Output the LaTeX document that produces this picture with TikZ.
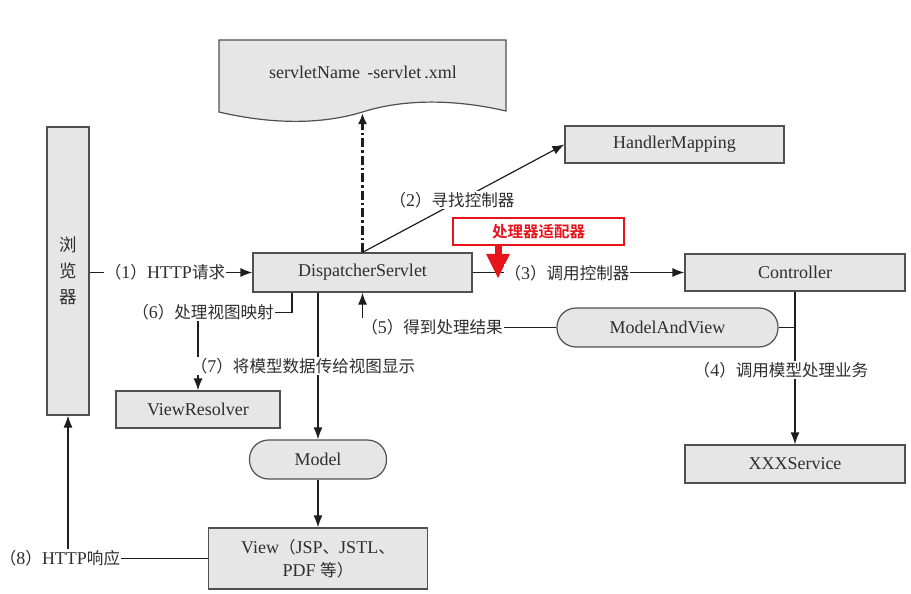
\documentclass[tikz,border=0pt]{standalone}
\usepackage{fontspec}
\setmainfont{Liberation Serif}
\newfontfamily\cjk[Scale=0.92]{Noto Sans CJK SC}
\newfontfamily\cjkbold{Noto Sans CJK SC Bold}
\usetikzlibrary{arrows.meta}
\newcommand{\zh}[1]{{\cjk #1}}
\definecolor{boxgray}{HTML}{E6E6E6}
\definecolor{boxline}{HTML}{505050}
\definecolor{textgray}{HTML}{2E2E2E}
\definecolor{linegray}{HTML}{1E1E1E}
\definecolor{markred}{HTML}{E8141B}
\begin{document}
\begin{tikzpicture}[
        x=1pt, y=-1pt,
        every node/.style = {font=\fontsize{18}{21}\selectfont},
        box/.style = {rectangle, draw=boxline, fill=boxgray, line width=1.2pt, inner sep=0pt, text=textgray},
        pill/.style = {box, rounded corners=19pt},
        lbl/.style = {fill=white, inner sep=1pt, text=textgray},
        link/.style = {line width=1.2pt, draw=linegray},
        arrow/.style = {link, -{Latex[length=12pt,width=9pt]}},
        redarrow/.style = {draw=markred, line width=7pt, -{Triangle[length=25pt,width=22pt]}}
    ]
    \useasboundingbox (0,0) rectangle (911,594);

    % ================= ARCHIVO DE CONFIGURACION =================
    \draw[draw=boxline, fill=boxgray, line width=1.2pt]
        (219,40) -- (506,40) -- (506,111)
        .. controls (450,98) and (400,100) .. (362.5,112)
        .. controls (320,125) and (270,124) .. (219,112) -- cycle;
    \node[text=textgray] (xml) at (363,72) {servletName \,-servlet\,.xml};
    \coordinate (xmlb) at (362.5,113);

    % ================= CAJAS =================
    \node[box, minimum width=42, minimum height=288, align=center,
          font=\cjk\fontsize{19}{26}\selectfont] (browser) at (68,271) {浏\\览\\器};
    \node[box, minimum width=219, minimum height=39] (ds) at (362.5,272.5) {DispatcherServlet};
    \node[box, minimum width=219, minimum height=37] (hm) at (674.5,144.5) {HandlerMapping};
    \node[box, minimum width=220, minimum height=37] (ctrl) at (795,272.5) {Controller};
    \node[box, minimum width=220, minimum height=38] (svc) at (795,464) {XXXService};
    \node[pill, minimum width=221, minimum height=39] (mav) at (667.5,327.5) {ModelAndView};
    \node[box, minimum width=164, minimum height=37] (vr) at (198,409.5) {ViewResolver};
    \node[pill, minimum width=137, minimum height=39] (model) at (318,459.5) {Model};
    \node[box, minimum width=219, minimum height=61, align=center,
          font=\fontsize{18}{23}\selectfont] (view) at (318,558.5) {View\zh{（}JSP\zh{、}JSTL\zh{、}\\PDF \zh{等）}};

    % Adaptador (marca roja)
    \node[rectangle, draw=markred, line width=1.5pt, fill=white, minimum width=171, minimum height=27,
          text=markred, font=\cjkbold\fontsize{15.5}{18}\selectfont] (adapter) at (538.5,231.5) {处理器适配器};

    % ================= CONEXIONES =================
    \draw[link, line width=2.4pt, dash pattern=on 9pt off 3pt on 2.5pt off 3pt, -{Latex[length=11pt,width=9pt]}] (ds.north) -- (xmlb);
    \draw[arrow] (browser.east |- ds.west) -- (ds.west);
    \draw[arrow] (ds.north) -- (hm.west);
    \draw[arrow] (ds.east) -- (ctrl.west);
    \draw[arrow] (ctrl.south) -- (svc.north);
    \draw[link] (mav.east) -- (mav.east -| ctrl.south);
    \draw[arrow] (mav.west) -- (mav.west -| ds.south) -- (ds.south);
    \draw[arrow] ([xshift=-70.5pt]ds.south) -- ++(0,20) -| (vr.north);
    \draw[arrow] (ds.south -| model.north) -- (model.north);
    \draw[arrow] (model.south) -- (view.north);
    \draw[arrow] (view.west) -| (browser.south);
    \draw[redarrow] ([xshift=-40.5pt]adapter.south) -- ++(0,33);

    % ================= ETIQUETAS =================
    \node[lbl] (l1) at (165,272) {\zh{（}1\zh{）}HTTP\zh{请求}};
    \node[lbl] (l2) at (452,200) {\zh{（}2\zh{）寻找控制器}};
    \node[lbl] (l3) at (567,273) {\zh{（}3\zh{）调用控制器}};
    \node[lbl] (l4) at (781,370) {\zh{（}4\zh{）调用模型处理业务}};
    \node[lbl] (l5) at (432,327) {\zh{（}5\zh{）得到处理结果}};
    \node[lbl] (l6) at (203,312) {\zh{（}6\zh{）处理视图映射}};
    \node[lbl] (l7) at (303,366) {\zh{（}7\zh{）将模型数据传给视图显示}};
    \node[lbl] (l8) at (60,558) {\zh{（}8\zh{）}HTTP\zh{响应}};

\end{tikzpicture}
\end{document}
